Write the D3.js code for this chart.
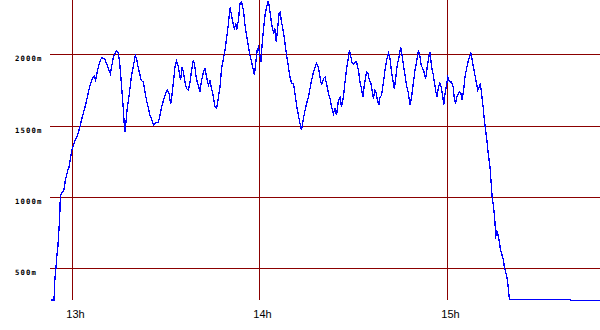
<!DOCTYPE html>
<html>
<head>
<meta charset="utf-8">
<script src="https://cdn.jsdelivr.net/npm/d3@7"></script>
<style>
  html, body { margin: 0; padding: 0; background: #ffffff; }
  svg { display: block; }
</style>
</head>
<body>
<svg id="chart" width="600" height="330"></svg>
<script>
// Time in minutes after 12:00
const timeMinutes = [
  53.0, 54.1, 54.2, 54.4, 54.7, 54.9, 55.3, 55.6, 55.9, 56.1, 56.3, 56.6, 57.1, 57.4, 57.7, 58.1, 58.5, 58.9, 59.4, 59.8,
  60.3, 60.9, 61.3, 61.8, 62.4, 63.0, 63.7, 64.3, 65.0, 65.6, 66.2, 66.9, 67.4, 67.9, 68.4, 69.0, 69.5, 70.3, 70.9, 71.6,
  72.1, 72.6, 73.1, 73.6, 74.0, 74.6, 75.0, 75.4, 75.8, 76.3, 76.6, 76.8, 77.1, 77.5, 78.2, 78.8, 79.5, 80.1, 80.5, 81.0,
  81.5, 82.0, 82.7, 83.1, 83.7, 84.3, 84.8, 85.3, 85.9, 86.4, 87.5, 88.0, 88.5, 89.1, 89.6, 90.3, 90.9, 91.4, 91.8, 92.3,
  92.8, 93.3, 93.8, 94.2, 94.6, 95.0, 95.5, 96.0, 96.5, 97.1, 97.6, 98.1, 98.7, 99.1, 99.5, 99.9, 100.4, 100.8, 101.2, 101.9,
  102.4, 102.9, 103.5, 104.0, 104.5, 105.1, 105.6, 106.1, 106.7, 107.2, 107.7, 108.3, 108.8, 109.3, 109.9, 110.4, 110.8, 111.3, 111.8, 112.3,
  112.5, 113.1, 113.6, 114.1, 114.7, 115.2, 115.7, 116.3, 116.8, 117.3, 117.9, 118.2, 118.6, 119.1, 119.5, 119.9, 120.3, 120.7, 121.2, 121.6,
  122.1, 122.6, 123.0, 123.4, 123.9, 124.4, 124.8, 125.2, 125.7, 126.1, 126.4, 126.9, 127.5, 128.0, 128.5, 129.1, 129.6, 130.1, 130.7, 131.2,
  131.7, 132.3, 132.8, 133.3, 133.9, 134.4, 134.9, 135.5, 136.0, 136.5, 137.1, 137.6, 138.1, 138.7, 139.2, 139.7, 140.3, 140.8, 141.3, 141.9,
  142.4, 142.9, 143.5, 144.0, 144.5, 145.1, 145.6, 146.1, 146.7, 147.2, 147.7, 148.3, 148.6, 149.0, 149.4, 149.9, 150.4, 150.9, 151.5, 152.0,
  152.5, 152.9, 153.3, 153.7, 154.1, 154.6, 155.0, 155.4, 155.8, 156.3, 156.7, 157.1, 157.5, 158.0, 158.4, 158.9, 159.5, 160.0, 160.5, 161.1,
  161.6, 162.1, 162.7, 163.0, 163.4, 163.9, 164.5, 165.0, 165.4, 165.9, 166.4, 166.9, 167.5, 168.0, 168.5, 169.1, 169.6, 170.1, 170.7, 171.2,
  171.6, 172.1, 172.5, 173.0, 173.5, 174.0, 174.4, 174.9, 175.4, 175.8, 176.2, 176.6, 177.1, 177.6, 178.1, 178.5, 178.8, 179.2, 179.7, 180.1,
  180.5, 180.9, 181.3, 181.8, 182.2, 182.6, 183.0, 183.5, 183.9, 184.3, 184.7, 185.2, 185.6, 186.1, 186.7, 187.2, 187.5, 187.9, 188.4, 188.8,
  189.2, 189.7, 190.1, 190.5, 190.9, 191.4, 191.8, 192.2, 192.6, 193.1, 193.6, 193.9, 194.3, 194.8, 195.2, 195.4, 195.7, 196.1, 196.5, 196.9,
  197.3, 197.8, 198.2, 198.6, 199.0, 199.5, 199.8, 219.2, 219.4, 228.8
];

// Elevation in metres
const elevation = [
  278, 278, 360, 437, 501, 564, 648, 746, 851, 998, 1019, 1033, 1040, 1068, 1117, 1152, 1187, 1209, 1279, 1328,
  1363, 1403, 1417, 1445, 1496, 1550, 1608, 1655, 1725, 1783, 1823, 1848, 1818, 1876, 1923, 1965, 1977, 1970, 1935, 1893,
  1865, 1923, 1982, 2005, 2024, 2010, 1958, 1865, 1748, 1608, 1491, 1456, 1526, 1620, 1725, 1841, 1923, 1993, 1970, 1911,
  1865, 1818, 1806, 1748, 1678, 1620, 1573, 1550, 1503, 1519, 1526, 1573, 1631, 1678, 1713, 1753, 1725, 1650, 1713, 1806,
  1911, 1954, 1923, 1865, 1818, 1911, 1876, 1806, 1760, 1748, 1806, 1888, 1963, 1923, 1853, 1806, 1771, 1736, 1806, 1876,
  1900, 1841, 1783, 1818, 1760, 1701, 1631, 1620, 1701, 1771, 1900, 1970, 2029, 2111, 2216, 2328, 2286, 2227, 2181, 2216,
  2169, 2239, 2356, 2367, 2309, 2204, 2134, 2052, 1993, 1946, 1888, 1853, 1935, 2029, 2052, 2005, 1946, 2076, 2192, 2274,
  2332, 2375, 2332, 2262, 2192, 2146, 2181, 2087, 2192, 2286, 2297, 2227, 2157, 2076, 1993, 1911, 1841, 1799, 1795, 1725,
  1643, 1573, 1515, 1468, 1550, 1608, 1655, 1701, 1760, 1818, 1876, 1911, 1935, 1911, 1841, 1783, 1830, 1841, 1795, 1725,
  1690, 1631, 1585, 1620, 1573, 1678, 1701, 1631, 1701, 1806, 1900, 1982, 2029, 1993, 1946, 1935, 1946, 1946, 1888, 1806,
  1760, 1701, 1771, 1830, 1876, 1865, 1818, 1806, 1760, 1690, 1748, 1736, 1690, 1643, 1701, 1713, 1806, 1888, 1958, 2010,
  1970, 1876, 1795, 1760, 1830, 1923, 1982, 2052, 2005, 1923, 1853, 1783, 1725, 1643, 1701, 1806, 1888, 1946, 2029, 1982,
  1923, 1900, 1876, 1830, 1911, 1982, 2017, 1911, 1865, 1806, 1748, 1701, 1771, 1799, 1760, 1701, 1643, 1725, 1783, 1841,
  1818, 1806, 1806, 1771, 1690, 1655, 1701, 1725, 1736, 1725, 1678, 1760, 1841, 1900, 1958, 1993, 2010, 1958, 1900, 1853,
  1806, 1748, 1771, 1795, 1725, 1631, 1538, 1468, 1398, 1293, 1211, 1117, 1000, 919, 825, 709, 767, 744, 697, 639,
  604, 569, 510, 475, 440, 358, 281, 281, 274, 274
];

// Ticks
const hourTicks = [60, 120, 180];            // minutes after 12:00
const hourLabels = ["13h", "14h", "15h"];
const elevTicks = [500, 1000, 1500, 2000];
const elevLabels = ["500m", "1000m", "1500m", "2000m"];

const svg = d3.select("#chart");
const plot = { left: 50, right: 600, top: 0, bottom: 300 };

const x = d3.scaleLinear().domain([60, 180]).range([72.5, 447.5]);
const y = d3.scaleLinear().domain([0, 2000]).range([339.7, 54.4]);

const gridColor = "#8b0000";

// horizontal grid lines
svg.append("g").selectAll("line").data(elevTicks).join("line")
  .attr("x1", plot.left).attr("x2", plot.right)
  .attr("y1", d => Math.round(y(d)) + 0.5)
  .attr("y2", d => Math.round(y(d)) + 0.5)
  .attr("stroke", gridColor).attr("stroke-width", 1)
  .attr("shape-rendering", "crispEdges");

// vertical grid lines
svg.append("g").selectAll("line").data(hourTicks).join("line")
  .attr("x1", d => Math.floor(x(d) - 0.5) + 0.5)
  .attr("x2", d => Math.floor(x(d) - 0.5) + 0.5)
  .attr("y1", plot.top).attr("y2", plot.bottom)
  .attr("stroke", gridColor).attr("stroke-width", 1)
  .attr("shape-rendering", "crispEdges");

// y labels
svg.append("g").selectAll("text").data(elevTicks).join("text")
  .attr("x", 15)
  .attr("y", d => Math.round(y(d)) + 6.5)
  .attr("font-family", "DejaVu Sans Mono")
  .attr("font-weight", "bold")
  .attr("font-size", 7.3)
  .attr("letter-spacing", 1.1)
  .attr("fill", "#000")
  .text((d, i) => elevLabels[i]);

// x labels
svg.append("g").selectAll("text").data(hourTicks).join("text")
  .attr("x", d => Math.floor(x(d) - 0.5) + 3.5)
  .attr("y", 317.5)
  .attr("text-anchor", "middle")
  .attr("font-family", "Liberation Sans, Arial, sans-serif")
  .attr("font-size", 11)
  .attr("fill", "#000")
  .text((d, i) => hourLabels[i]);

// clip
svg.append("clipPath").attr("id", "clip")
  .append("rect").attr("x", plot.left).attr("y", 0)
  .attr("width", plot.right - plot.left).attr("height", 301.5);

const pts = timeMinutes.map((t, i) => [t, elevation[i]]);
const line = d3.line().x(d => x(d[0])).y(d => y(d[1]));

svg.append("path")
  .datum(pts)
  .attr("clip-path", "url(#clip)")
  .attr("d", line)
  .attr("fill", "none")
  .attr("stroke", "#0000ff")
  .attr("stroke-width", 1.3)
  .attr("shape-rendering", "crispEdges");
</script>
</body>
</html>
